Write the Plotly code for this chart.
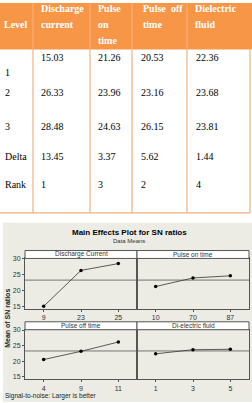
import numpy as np
import plotly.graph_objects as go

W, H = 252, 403

# ---------------- data ----------------
levels = ["1", "2", "3", "Delta", "Rank"]
factor_header = [["Discharge", "current"], ["Pulse", "on", "time"], ["Pulse", "time"], ["Dielectric", "fluid"]]
dc = [15.03, 26.33, 28.48]
pon = [21.26, 23.96, 24.63]
poff = [20.53, 23.16, 26.15]
diel = [22.36, 23.68, 23.81]
delta = [13.45, 3.37, 5.62, 1.44]
rank = [1, 3, 2, 4]
panel_titles = ["Discharge Current", "Pulse on time", "Pulse off time", "Di-electric fluid"]
xtick_labels = [["9", "23", "25"], ["10", "70", "87"], ["4", "9", "11"], ["1", "3", "5"]]
series = [dc, pon, poff, diel]

# ---------------- helpers ----------------
def px(x):
    return x / W

def py(y):
    return 1 - y / H

fig = go.Figure()
shapes = []
ann = []

ORANGE = "#F79646"
LINE_OR = "#F2B07E"
SERIF = "Liberation Serif"
SANS = "Liberation Sans"

# ---------------- table ----------------
shapes.append(dict(type="rect", xref="paper", yref="paper", x0=0, x1=px(252), y0=py(47), y1=py(0),
                   fillcolor=ORANGE, line=dict(width=0), layer="above"))
col_lines = [33, 90, 132, 187, 250]
for cx in col_lines:
    shapes.append(dict(type="line", xref="paper", yref="paper", x0=px(cx), x1=px(cx), y0=py(212), y1=py(47),
                       line=dict(color=LINE_OR, width=1.2)))
    if cx < 250:
        shapes.append(dict(type="line", xref="paper", yref="paper", x0=px(cx), x1=px(cx), y0=py(47), y1=py(0),
                           line=dict(color="#F9B583", width=1)))
shapes.append(dict(type="line", xref="paper", yref="paper", x0=0, x1=px(250), y0=py(212), y1=py(212),
                   line=dict(color=LINE_OR, width=1.2)))

def txt(x, y, s, size=10, bold=False, color="black", font=SERIF, anchor="left"):
    ann.append(dict(x=px(x), y=py(y), xref="paper", yref="paper", text=f"<b>{s}</b>" if bold else s,
                    showarrow=False, xanchor=anchor, yanchor="middle",
                    font=dict(family=font, size=size, color=color)))

# header
txt(2, 22, "Level", bold=True, color="white")
head_x = [39, 96, 141, 193]
line_y = [6, 22, 38]
for i, parts in enumerate(factor_header):
    for j, p in enumerate(parts):
        txt(head_x[i], line_y[j], p, bold=True, color="white")
txt(185, 6, "off", bold=True, color="white", anchor="right")

# body
val_x = [39, 96, 139, 194]
row_y = [55, 90, 125]
label_y = [70, 90, 125, 155, 183]
for i, lab in enumerate(levels):
    txt(3, label_y[i], lab)
for j, s in enumerate(series):
    for i in range(3):
        txt(val_x[j], row_y[i], f"{s[i]:.2f}")
    txt(val_x[j], 155, f"{delta[j]:.2f}")
    txt(val_x[j], 183, str(rank[j]))

# ---------------- chart frame ----------------
shapes.append(dict(type="rect", xref="paper", yref="paper", x0=px(3), x1=px(252), y0=py(403), y1=py(222),
                   fillcolor="#ECECE4", line=dict(width=0), layer="below"))
txt(129, 232, "Main Effects Plot for SN ratios", size=8, bold=True, font=SANS, anchor="center")
txt(129, 240, "Data Means", size=6, font=SANS, anchor="center", color="#333")
txt(3, 397, "Signal-to-noise: Larger is better", size=6.5, font=SANS, color="#222")
ann.append(dict(x=px(8), y=py(319), xref="paper", yref="paper", text="<b>Mean of SN ratios</b>",
                showarrow=False, textangle=-90, xanchor="center", yanchor="middle",
                font=dict(family=SANS, size=7, color="#222")))

# panels
xdom = [(25, 137), (137, 249), (25, 137), (137, 249)]
ydom = [(258, 309), (258, 309), (330, 380), (330, 380)]
strip = [(250, 258), (250, 258), (322, 330), (322, 330)]
yrange = [14.2, 30.1]

for k in range(4):
    ax = "" if k == 0 else str(k + 1)
    xa, ya = "x" + ax, "y" + ax
    s = series[k]
    gm = float(np.mean(s))
    fig.add_trace(go.Scatter(x=[-0.5, 2.5], y=[gm, gm], mode="lines", xaxis=xa, yaxis=ya,
                             line=dict(color="#555", width=0.8), showlegend=False, hoverinfo="skip"))
    fig.add_trace(go.Scatter(x=[0, 1, 2], y=s, mode="lines+markers", xaxis=xa, yaxis=ya,
                             line=dict(color="#333", width=0.8), marker=dict(size=3.5, color="black"),
                             showlegend=False))
    x0, x1 = xdom[k]
    y0, y1 = ydom[k]
    fig.layout["xaxis" + ax] = dict(domain=[px(x0), px(x1)], range=[-0.5, 2.5], anchor=ya,
                                    tickvals=[0, 1, 2], ticktext=xtick_labels[k], ticks="outside",
                                    ticklen=2, tickcolor="#555", showline=True, mirror=True,
                                    linecolor="#555", linewidth=1, showgrid=False, zeroline=False,
                                    tickfont=dict(family=SANS, size=7, color="#333"), fixedrange=True)
    fig.layout["yaxis" + ax] = dict(domain=[py(y1), py(y0)], range=yrange, anchor=xa,
                                    tickvals=[15, 20, 25, 30], ticks="outside" if k % 2 == 0 else "",
                                    ticklen=2, tickcolor="#555", showticklabels=(k % 2 == 0),
                                    showline=True, mirror=True, linecolor="#555", linewidth=1,
                                    showgrid=False, zeroline=False,
                                    tickfont=dict(family=SANS, size=7, color="#333"), fixedrange=True)
    sy0, sy1 = strip[k]
    shapes.append(dict(type="rect", xref="paper", yref="paper", x0=px(x0), x1=px(x1), y0=py(sy1), y1=py(sy0),
                       fillcolor="white", line=dict(color="#555", width=1)))
    ann.append(dict(x=px((x0 + x1) / 2), y=py((sy0 + sy1) / 2), xref="paper", yref="paper",
                    text=panel_titles[k], showarrow=False, xanchor="center", yanchor="middle",
                    font=dict(family=SANS, size=6.5, color="#333")))

fig.update_layout(width=W, height=H, margin=dict(l=0, r=0, t=0, b=0),
                  paper_bgcolor="white", plot_bgcolor="white",
                  shapes=shapes, annotations=ann, showlegend=False)

fig.write_html("out.html", config={"displayModeBar": False})
